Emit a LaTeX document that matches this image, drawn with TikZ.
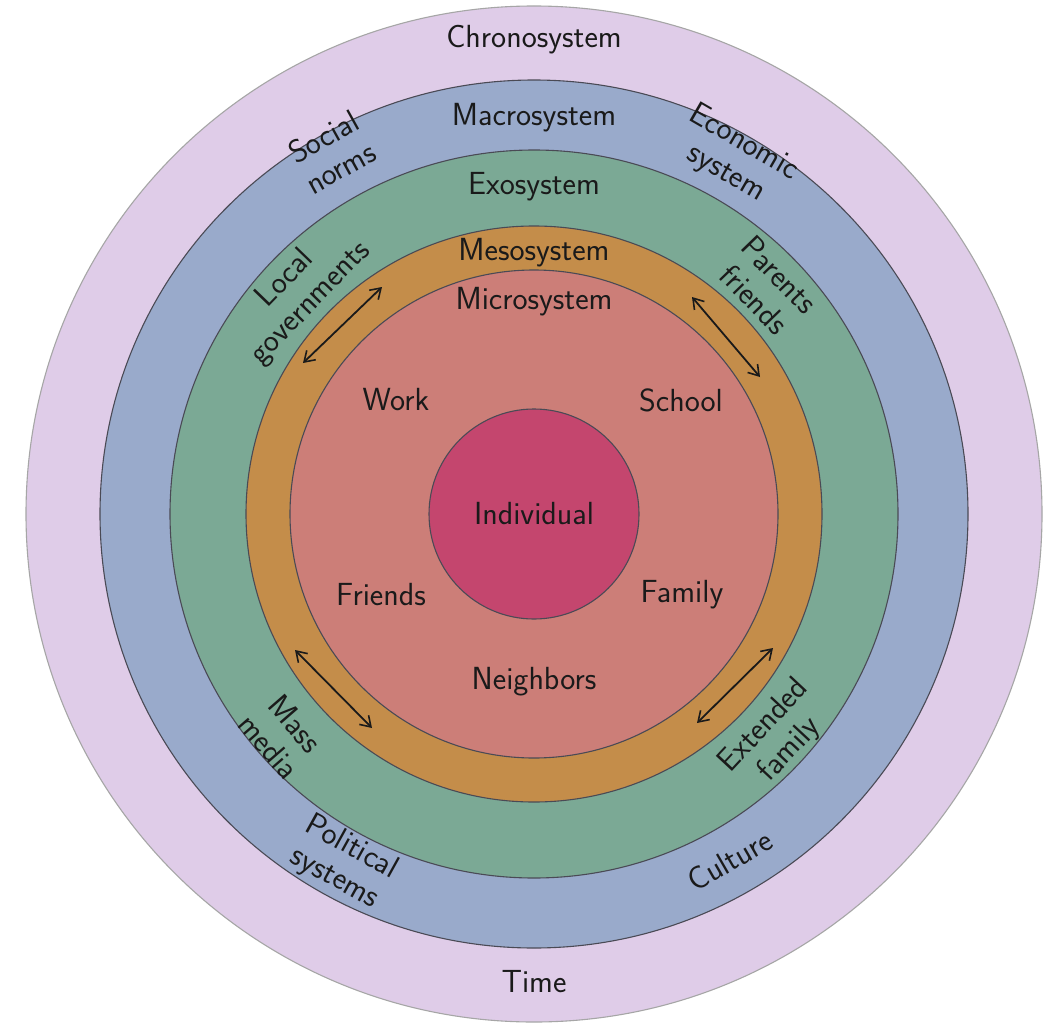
\documentclass[tikz,border=0pt]{standalone}
\usetikzlibrary{arrows.meta}
\definecolor{chronoC}{HTML}{DFCCE8}
\definecolor{macroC}{HTML}{99AACB}
\definecolor{exoC}{HTML}{7BA995}
\definecolor{mesoC}{HTML}{C48D4A}
\definecolor{microC}{HTML}{CC7E78}
\definecolor{indivC}{HTML}{C4466E}
\definecolor{inkC}{HTML}{1A1A1A}
\definecolor{edgeC}{HTML}{4A4A55}
\tikzset{
  ring/.style={circle, draw=edgeC, line width=1.1pt, inner sep=0pt, outer sep=0pt},
  lbl/.style={font=\sffamily\fontsize{32}{35}\selectfont, text=inkC, inner sep=0pt, align=center},
  dbl/.style={{Straight Barb[length=10pt,width=13pt,line width=1.6pt]}-{Straight Barb[length=10pt,width=13pt,line width=1.6pt]}, line width=1.8pt, draw=inkC}
}
\begin{document}
\begin{tikzpicture}[x=1pt,y=-1pt]
\useasboundingbox (0,0) rectangle (1051,1022);
\fill[white] (0,0) rectangle (1051,1022);
\coordinate (c) at (534,514);
\node[ring, draw=gray!70, fill=chronoC, minimum size=1016pt] (chrono) at (c) {};
\node[ring, fill=macroC, minimum size=868pt] (macro) at (c) {};
\node[ring, fill=exoC, minimum size=728pt] (exo) at (c) {};
\node[ring, fill=mesoC, minimum size=576pt] (meso) at (c) {};
\node[ring, fill=microC, minimum size=488pt] (micro) at (c) {};
\node[ring, fill=indivC, minimum size=210pt, lbl] (indiv) at (c) {Individual};

\node[lbl] (tchrono) at (534,40) {Chronosystem};
\node[lbl] (tmacro) at (534,118) {Macrosystem};
\node[lbl] (texo) at (534,187) {Exosystem};
\node[lbl] (tmeso) at (534,253) {Mesosystem};
\node[lbl] (tmicro) at (534,302) {Microsystem};
\node[lbl] (twork) at (396,400) {Work};
\node[lbl] (tschool) at (681,400) {School};
\node[lbl] (tfriends) at (381,595) {Friends};
\node[lbl] (tfamily) at (682,595) {Family};
\node[lbl] (tneigh) at (534,682) {Neighbors};
\node[lbl] (ttime) at (534,982) {Time};

\node[lbl, rotate=29] (tsocial) at (332,152) {Social\\norms};
\node[lbl, rotate=-30] (tecon) at (735,158) {Economic\\system};
\node[lbl, rotate=46] (tlocal) at (298,291) {Local\\governments};
\node[lbl, rotate=-46] (tparents) at (767,287) {Parents\\friends};
\node[lbl, rotate=-49] (tmass) at (282,735) {Mass\\media};
\node[lbl, rotate=47] (textended) at (777,738) {Extended\\family};
\node[lbl, rotate=-29] (tpolit) at (343,863) {Political\\systems};
\node[lbl, rotate=30] (tculture) at (730,860) {Culture};

\coordinate (a1s) at (303,363); \coordinate (a1e) at (382,287);
\coordinate (a2s) at (692,297); \coordinate (a2e) at (760,377);
\coordinate (a3s) at (295,650); \coordinate (a3e) at (372,728);
\coordinate (a4s) at (773,648); \coordinate (a4e) at (697,723);
\draw[dbl] (a1s) -- (a1e);
\draw[dbl] (a2s) -- (a2e);
\draw[dbl] (a3s) -- (a3e);
\draw[dbl] (a4s) -- (a4e);
\end{tikzpicture}
\end{document}
